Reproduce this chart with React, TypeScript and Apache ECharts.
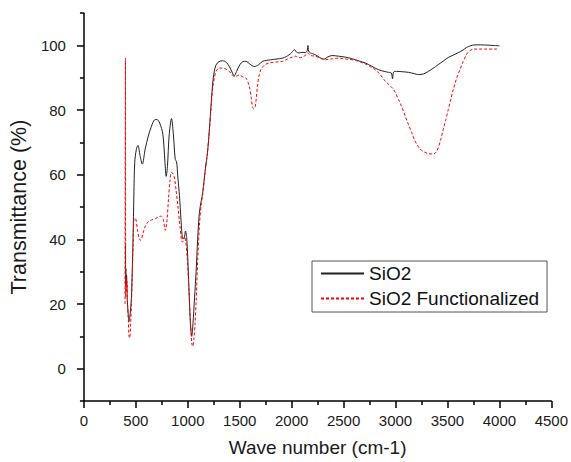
import React, { useEffect, useRef } from "react";
import * as echarts from "echarts";

const FONT = "'Liberation Sans', Arial, Helvetica, sans-serif";

const seriesNames = ["SiO2", "SiO2 Functionalized"];

const sio2Wave = [
  400, 401, 403, 406, 410, 418, 426, 434, 445, 457, 465, 473, 481, 489, 505, 521, 540, 562, 590, 620,
  650, 680, 703, 730, 760, 780, 792, 805, 820, 843, 860, 879, 892, 905, 920, 935, 952, 965, 978, 990,
  1000, 1012, 1025, 1038, 1050, 1065, 1080, 1095, 1112, 1130, 1144, 1169, 1190, 1208, 1225, 1240, 1255,
  1272, 1300, 1336, 1370, 1400, 1430, 1447, 1470, 1500, 1530, 1559, 1600, 1639, 1680, 1719, 1760, 1799,
  1850, 1911, 1950, 1974, 2000, 2015, 2029, 2045, 2070, 2100, 2134, 2150, 2157, 2163, 2180, 2200, 2230,
  2270, 2310, 2350, 2390, 2450, 2518, 2570, 2614, 2660, 2710, 2770, 2837, 2890, 2933, 2960, 2971, 2982,
  3010, 3060, 3125, 3180, 3220, 3270, 3316, 3360, 3412, 3460, 3508, 3560, 3604, 3650, 3684, 3720, 3764,
  3820, 3892, 3950, 4000,
];
const sio2Trans = [
  38.5, 26, 31, 26, 29, 21, 17, 14.6, 17, 21.8, 30, 40.2, 54, 63.8, 67.9, 69.1, 66, 63.3, 68, 72,
  75, 77, 77.1, 76, 72.5, 64, 59.5, 63, 72, 77.4, 73, 64.8, 64, 59, 53.5, 46, 40.2, 40.5, 42.6, 40.2,
  34, 24, 14, 10, 14, 22, 30, 40, 48.4, 52, 54.6, 61.8, 67, 74, 82, 88.4, 92,
  94, 95, 95.3, 94.8, 93.5, 91.5, 90.6, 92, 94, 95, 95.1, 94.2, 93.5, 94, 95.1, 95.4, 95.6,
  95.8, 96.1, 96.6, 97.1, 97.8, 98.4, 98.7, 98, 97.7, 97.9, 97.8, 98.5, 100, 98.3, 97.7, 97.5, 97.1,
  96.3, 95.8, 96.5, 96.9, 96.7, 96.4, 96, 95.6, 95.1, 94.6, 93.6, 92.5, 92, 91.7, 91.5, 89.7, 91.8,
  92, 91.9, 91.7, 91.3, 91, 91.2, 92, 92.9, 94.1, 95.2, 96.3, 97.1, 97.8, 98.6, 99.4, 99.9, 100.2,
  100.2, 100.1, 100, 99.9,
];

const funcWave = [
  396, 400, 402, 405, 409, 414, 420, 428, 434, 441, 450, 457, 465, 473, 482, 495, 515, 530, 546, 570,
  590, 617, 650, 690, 720, 744, 765, 783, 800, 815, 828, 840, 855, 872, 888, 904, 925, 946, 960, 970,
  980, 995, 1010, 1025, 1040, 1048, 1058, 1070, 1080, 1096, 1112, 1128, 1144, 1169, 1190, 1208, 1225,
  1240, 1256, 1272, 1300, 1336, 1380, 1420, 1447, 1475, 1495, 1530, 1559, 1591, 1610, 1623, 1636, 1649,
  1660, 1671, 1685, 1703, 1740, 1783, 1850, 1911, 1960, 2006, 2038, 2070, 2110, 2140, 2157, 2175, 2200,
  2230, 2280, 2326, 2390, 2454, 2530, 2614, 2660, 2710, 2760, 2805, 2850, 2901, 2950, 2981, 3029, 3060,
  3093, 3125, 3157, 3180, 3205, 3235, 3268, 3310, 3364, 3390, 3412, 3436, 3460, 3484, 3508, 3532, 3556,
  3590, 3620, 3650, 3674, 3695, 3716, 3740, 3764, 3850, 3971, 4000,
];
const funcTrans = [
  20, 96, 22, 28, 24, 27, 20, 15, 10, 9.5, 14, 19.7, 28, 38, 46.4, 46.5, 43, 40.5, 39.7, 42,
  44, 45.4, 46, 46.5, 47, 47.2, 46, 42.8, 46, 53, 58, 60.7, 60.5, 59, 55, 50.5, 44, 39.2, 39.5, 41,
  39.5, 34, 25, 15, 7.5, 6.9, 9, 14, 20.7, 34, 44.3, 50.5, 54, 61.5, 67, 74, 81,
  87, 90, 92, 93, 93, 92.5, 91.3, 90.4, 90.6, 90.9, 90.3, 90, 87.5, 84, 81, 80.5, 81,
  84, 87.4, 90.5, 92.5, 94, 94.6, 94.9, 95.1, 95.8, 96.4, 96.7, 96.2, 96.5, 97.2, 97.8, 97, 96.8,
  96.7, 96, 95.6, 95.9, 96.1, 95.8, 95.4, 94.9, 94.3, 93.4, 92.5, 91.1, 89, 87.5, 86.4, 83.3, 81,
  78.2, 75.5, 73, 71, 69.4, 68, 67.2, 66.6, 66.4, 67, 68.4, 71, 74.1, 77, 80.2, 83.3, 86.4,
  90, 92.5, 95, 96.6, 97.8, 98.4, 98.8, 98.9, 98.9, 98.9, 98.9,
];

const yMajorTicks = [0, 20, 40, 60, 80, 100];
const yMinorTicks = [-10, 10, 30, 50, 70, 90, 110];

const zip = (xs: number[], ys: number[]) => xs.map((x, i) => [x, ys[i]]);

export default function App() {
  const ref = useRef<HTMLDivElement>(null);
  useEffect(() => {
    if (!ref.current) return;
    const chart = echarts.init(ref.current, undefined, { renderer: "svg" });
    const labelStyle = { fontFamily: FONT, fontSize: 15, color: "#1a1a1a" };
    chart.setOption({
      animation: false,
      backgroundColor: "#ffffff",
      grid: { left: 83.7, right: 18, top: 13.2, bottom: 58.7, containLabel: false },
      legend: {
        orient: "vertical",
        left: 312,
        top: 261,
        padding: [3, 8, 4, 8],
        itemGap: 6,
        itemWidth: 43,
        itemHeight: 19,
        borderColor: "#555",
        borderWidth: 1,
        itemStyle: { opacity: 0 },
        textStyle: { fontFamily: FONT, fontSize: 19, color: "#111", lineHeight: 19 },
        data: seriesNames,
      },
      xAxis: {
        type: "value",
        min: 0,
        max: 4500,
        interval: 500,
        name: "Wave number (cm-1)",
        nameLocation: "middle",
        nameGap: 37,
        nameTextStyle: { fontFamily: FONT, fontSize: 19, color: "#1a1a1a" },
        axisLine: { show: true, onZero: false, lineStyle: { color: "#000", width: 1.5 } },
        axisTick: { show: true, length: 7, lineStyle: { color: "#000", width: 1.5 } },
        minorTick: { show: true, splitNumber: 2, length: 4, lineStyle: { color: "#000", width: 1.5 } },
        axisLabel: { ...labelStyle, margin: 12, formatter: (v: number) => String(v) },
        splitLine: { show: false },
        minorSplitLine: { show: false },
      },
      yAxis: [
        {
          type: "value",
          min: -10,
          max: 110,
          position: "left",
          name: "Transmittance (%)",
          nameLocation: "middle",
          nameGap: 52,
          nameTextStyle: { fontFamily: FONT, fontSize: 21.5, color: "#1a1a1a" },
          axisLine: { show: true, onZero: false, lineStyle: { color: "#000", width: 1.5 } },
          axisTick: { show: true, customValues: yMajorTicks, length: 7, lineStyle: { color: "#000", width: 1.5 } },
          axisLabel: { ...labelStyle, customValues: yMajorTicks, margin: 18, formatter: (v: number) => String(v) },
          splitLine: { show: false },
        },
        {
          type: "value",
          min: -10,
          max: 110,
          position: "left",
          axisLine: { show: false },
          axisTick: { show: true, customValues: yMinorTicks, length: 4, lineStyle: { color: "#000", width: 1.5 } },
          axisLabel: { show: false },
          splitLine: { show: false },
        },
      ],
      series: [
        {
          name: seriesNames[0],
          type: "line",
          data: zip(sio2Wave, sio2Trans),
          showSymbol: false,
          symbol: "none",
          smooth: 0.3,
          lineStyle: { color: "#222", width: 1 },
          itemStyle: { color: "#222" },
        },
        {
          name: seriesNames[1],
          type: "line",
          data: zip(funcWave, funcTrans),
          showSymbol: false,
          symbol: "none",
          smooth: 0.3,
          lineStyle: { color: "#ff0000", width: 1, type: [3, 2] },
          itemStyle: { color: "#ff0000" },
        },
      ],
    });
    return () => chart.dispose();
  }, []);
  return <div ref={ref} style={{ position: "fixed", left: 0, top: 0, width: 571, height: 462 }} />;
}
